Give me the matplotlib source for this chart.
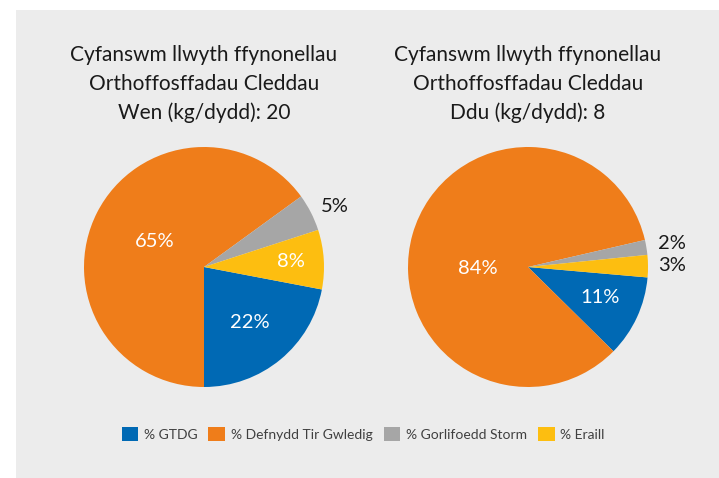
import numpy as np
import matplotlib
matplotlib.use('Agg')
import matplotlib.pyplot as plt
from matplotlib.patches import Rectangle, Patch

# data
categories = ['% GTDG', '% Defnydd Tir Gwledig', '% Gorlifoedd Storm', '% Eraill']
wen_values = [22, 65, 5, 8]
ddu_values = [11, 84, 2, 3]
titles = ['Cyfanswm llwyth ffynonellau\nOrthoffosffadau Cleddau\nWen (kg/dydd): 20',
          'Cyfanswm llwyth ffynonellau\nOrthoffosffadau Cleddau\nDdu (kg/dydd): 8']
colors = ['#0069B4', '#EF7D1A', '#A6A6A6', '#FDBE10']

plt.rcParams['font.family'] = ['Lato', 'DejaVu Sans']

W, H = 719, 478
fig = plt.figure(figsize=(W / 100, H / 100), dpi=100)
fig.patch.set_facecolor('white')
fig.patches.append(Rectangle((16 / W, 0), 1 - 16 / W, (H - 10) / H,
                             transform=fig.transFigure, facecolor='#ECECEC',
                             edgecolor='none', zorder=-5))

# label placement per pie: (radius fraction, angle offset, colour)
label_style = [
    [(0.60, 0, 'white'), (0.46, 0, 'white'), (1.20, -2, '#1a1a1a'), (0.73, 0, 'white')],
    [(0.65, 2, 'white'), (0.42, 17, 'white'), (1.22, 0, '#1a1a1a'), (1.20, 0, '#1a1a1a')],
]
start_angles = [-10.8, -5.0]
centres = [204, 528]
radius = 120

for i, vals in enumerate([wen_values, ddu_values]):
    cx = centres[i]
    ax = fig.add_axes([(cx - radius) / W, (H - 267 - radius) / H,
                       2 * radius / W, 2 * radius / H])
    ax.set_facecolor('none')
    wedges, _ = ax.pie(vals, colors=colors, startangle=start_angles[i],
                       counterclock=False, radius=1,
                       wedgeprops=dict(linewidth=0))
    ax.set_xlim(-1, 1)
    ax.set_ylim(-1, 1)
    ax.axis('off')
    for w, v, (r, off, c) in zip(wedges, vals, label_style[i]):
        ang = np.deg2rad((w.theta1 + w.theta2) / 2 + off)
        ax.text(r * np.cos(ang), r * np.sin(ang), f'{v}%', ha='center',
                va='center', fontsize=14.5, color=c)
    fig.text(cx / W, 1 - 84 / H, titles[i], ha='center', va='center',
             fontsize=15, color='#1a1a1a', linespacing=1.55)

handles = [Patch(facecolor=c, edgecolor='none') for c in colors]
fig.legend(handles, categories, loc='center', bbox_to_anchor=(363 / W, 1 - 434 / H),
           ncol=4, frameon=False, fontsize=10, handlelength=1.2, handleheight=1.2,
           handletextpad=0.4, columnspacing=0.8, labelcolor='#404040')

fig.savefig('out.png', dpi=100)
